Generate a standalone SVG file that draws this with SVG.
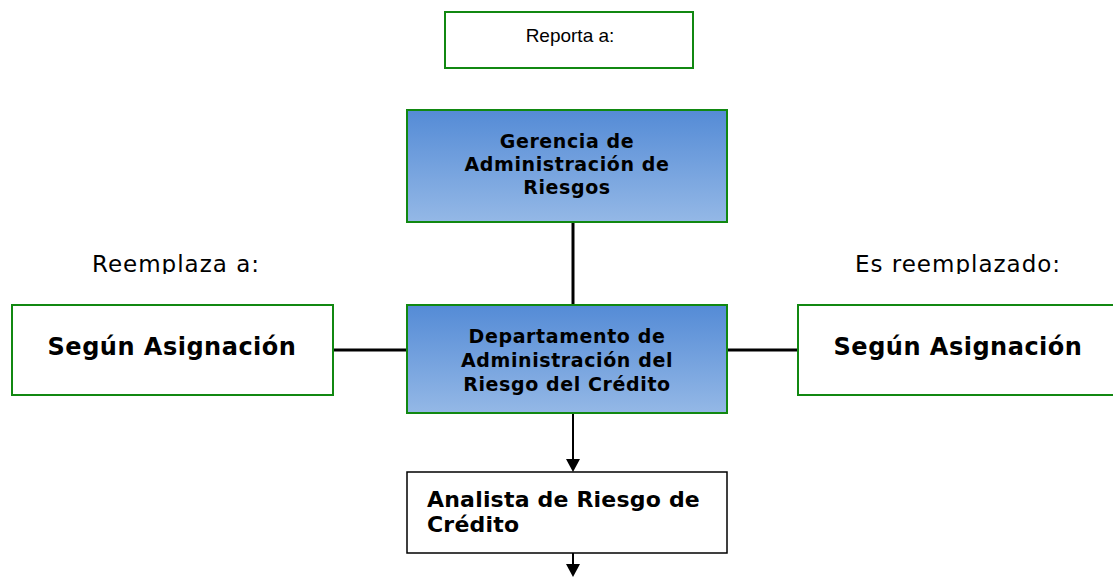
<svg xmlns="http://www.w3.org/2000/svg" width="1113" height="577" viewBox="0 0 1113 577">
<style>
.g{fill:#fff;stroke:#118811;stroke-width:2}
.b{fill:url(#grad);stroke:#118811;stroke-width:2}
.t{font-family:"DejaVu Sans",Verdana,sans-serif;font-weight:bold;fill:#000}
.r{font-family:"DejaVu Sans",Verdana,sans-serif;fill:#000}
.c{stroke:#000;stroke-width:3;fill:none}
.a{stroke:#000;stroke-width:2;fill:none}
</style>
<defs>
<linearGradient id="grad" x1="0" y1="0" x2="0" y2="1">
<stop offset="0" stop-color="#548bd6"/>
<stop offset="1" stop-color="#94b8e6"/>
</linearGradient>
<clipPath id="lblclip"><rect x="0" y="240" width="1113" height="34"/></clipPath>
</defs>
<g id="connectors">
<line class="c" x1="573" y1="222" x2="573" y2="305"/>
<line class="c" x1="333" y1="350" x2="407" y2="350"/>
<line class="c" x1="727" y1="350" x2="798" y2="350"/>
<path d="M573,413 V459" class="a"/>
<path d="M566,459 L580,459 L573,472 Z" fill="#000"/>
<path d="M573,553 V565" class="a"/>
<path d="M566,564 L580,564 L573,577 Z" fill="#000"/>
</g>
<g id="reporta">
<rect class="g" x="445" y="12" width="248" height="56"/>
<text x="570" y="42" style="font-family:'Liberation Sans',Arial,sans-serif" font-size="19" text-anchor="middle" fill="#000">Reporta a:</text>
</g>
<g id="gerencia">
<rect class="b" x="407" y="110" width="320" height="112"/>
<text class="t" font-size="19" letter-spacing="0.6" text-anchor="middle"><tspan x="567" y="148">Gerencia de</tspan><tspan x="567" y="171">Administración de</tspan><tspan x="567" y="194">Riesgos</tspan></text>
</g>
<g id="reemplaza-label" clip-path="url(#lblclip)">
<text class="r" x="176" y="272" font-size="23" letter-spacing="1" text-anchor="middle">Reemplaza a:</text>
</g>
<g id="esreemplazado-label" clip-path="url(#lblclip)">
<text class="r" x="958" y="272" font-size="23" letter-spacing="1" text-anchor="middle">Es reemplazado:</text>
</g>
<g id="left">
<rect class="g" x="12" y="305" width="321" height="90"/>
<text class="t" x="172" y="355" font-size="24" letter-spacing="0.5" text-anchor="middle">Según Asignación</text>
</g>
<g id="departamento">
<rect class="b" x="407" y="305" width="320" height="108"/>
<text class="t" font-size="19" letter-spacing="0.6" text-anchor="middle"><tspan x="567" y="343">Departamento de</tspan><tspan x="567" y="367">Administración del</tspan><tspan x="567" y="391">Riesgo del Crédito</tspan></text>
</g>
<g id="right">
<rect class="g" x="798" y="305" width="321" height="90"/>
<text class="t" x="958" y="355" font-size="24" letter-spacing="0.5" text-anchor="middle">Según Asignación</text>
</g>
<g id="analista">
<rect x="407" y="472" width="320" height="81" fill="#fff" stroke="#000" stroke-width="1.5"/>
<text class="t" font-size="22" letter-spacing="0.2"><tspan x="427" y="507">Analista de Riesgo de</tspan><tspan x="427" y="532">Crédito</tspan></text>
</g>
</svg>
